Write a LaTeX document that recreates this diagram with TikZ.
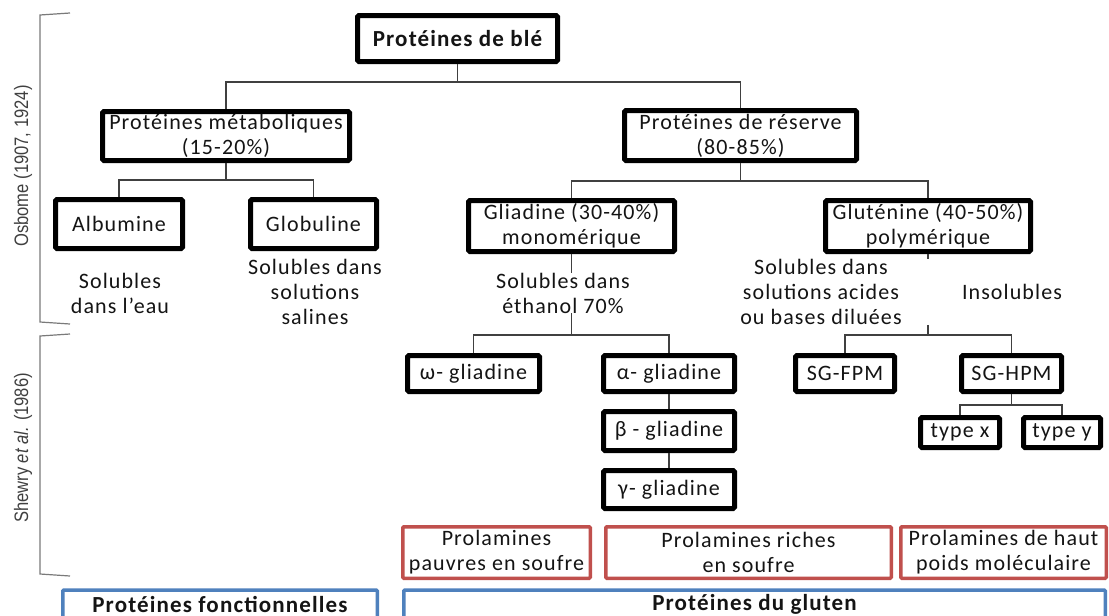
\documentclass[tikz,border=0pt]{standalone}
\usepackage{fontspec}
\setmainfont{Carlito}[LetterSpace=5]
\newfontfamily\labelfont{Liberation Sans}[FakeStretch=0.85]

\definecolor{ink}{HTML}{141414}
\definecolor{redc}{HTML}{C0504D}
\definecolor{bluec}{HTML}{4F81BD}
\definecolor{linegrey}{HTML}{404040}
\definecolor{bracketgrey}{HTML}{7A7A7A}
\definecolor{labelgrey}{HTML}{404040}

\newcommand{\boxfont}{\fontsize{22}{25}\selectfont}
\newcommand{\headfont}{\fontsize{23}{26}\selectfont\bfseries}

\tikzset{
  every node/.style={font=\boxfont, text=ink},
  wh/.style 2 args={minimum width=#1pt, minimum height=#2pt},
  blackbox/.style={draw=black, line width=5pt, fill=white, rounded corners=1.5pt,
    inner sep=0pt, align=center},
  redbox/.style={draw=redc, line width=3.5pt, fill=white, rounded corners=1pt,
    inner sep=0pt, align=center},
  bluebox/.style={draw=bluec, line width=3.5pt, fill=white, rounded corners=1pt,
    inner sep=0pt, align=center, font=\headfont},
  conn/.style={draw=linegrey, line width=1.3pt},
  note/.style={align=center, inner sep=0pt},
  bracket/.style={draw=bracketgrey, line width=1.2pt},
  sidelabel/.style={rotate=90, inner sep=0pt, text=labelgrey,
    font=\labelfont\fontsize{19.5}{22}\selectfont},
}

\begin{document}
\begin{tikzpicture}[x=1pt, y=-1pt]
\clip (0,0) rectangle (1109,616);
\fill[white] (0,0) rectangle (1109,616);

% side brackets with their references
\draw[bracket] (70,13) -- (40,15) -- (40,322) -- (70,324);
\node[sidelabel] (osb) at (23,166) {Osbome (1907, 1924)};
\draw[bracket] (70,334) -- (40,336) -- (40,574) -- (70,576);
\node[sidelabel] (shw) at (23,448) {Shewry \textit{et al.} (1986)};

% Osborne classification
\node[blackbox, font=\headfont, wh={200}{46}] (ble) at (457.5,38.5) {Protéines de blé};
\node[blackbox, wh={247}{49}] (meta) at (226,136) {Protéines métaboliques\\(15-20\%)};
\node[blackbox, wh={232}{50}] (reserve) at (740.5,135.5) {Protéines de réserve\\(80-85\%)};
\node[blackbox, wh={127}{49}] (alb) at (119,224) {Albumine};
\node[blackbox, wh={126}{49}] (glob) at (313.5,224) {Globuline};
\node[blackbox, wh={206}{51}] (glia) at (571.5,226) {Gliadine (30-40\%)\\monomérique};
\node[blackbox, wh={205}{51}] (glut) at (928,226) {Gluténine (40-50\%)\\polymérique};

% solubility notes
\node[note] (solalb) at (120,293) {Solubles\\dans l’eau};
\node[note] (solglob) at (315,292) {Solubles dans\\solutions\\salines};
\node[note] (solglia) at (563,293) {Solubles dans\\éthanol 70\%};
\node[note] (solglut) at (821,292) {Solubles dans\\solutions acides\\ou bases diluées};
\node[note] (insol) at (1012,292) {Insolubles};

% Shewry classification
\node[blackbox, wh={132}{36}] (omega) at (473.5,373.5) {ω- gliadine};
\node[blackbox, wh={131}{36}] (alpha) at (669,373.5) {α- gliadine};
\node[blackbox, wh={131}{39}] (beta) at (669,431) {β - gliadine};
\node[blackbox, wh={131}{38}] (gamma) at (669,489.5) {γ- gliadine};
\node[blackbox, wh={99}{36}] (fpm) at (845,373.5) {SG-FPM};
\node[blackbox, wh={100}{36}] (hpm) at (1011.5,373.5) {SG-HPM};
\node[blackbox, wh={79}{30}] (typex) at (960,432.5) {type x};
\node[blackbox, wh={77}{30}] (typey) at (1062,432.5) {type y};

% prolamin groups
\node[redbox, wh={187.5}{51.5}] (pauv) at (496.5,552.5) {Prolamines\\pauvres en soufre};
\node[redbox, wh={285.5}{51.5}] (rich) at (748.5,552.5) {Prolamines riches\\en soufre};
\node[redbox, wh={205.5}{51.5}] (haut) at (1003.5,552.5) {Prolamines de haut\\poids moléculaire};

% functional groups
\node[bluebox, wh={314.5}{28}] (fonc) at (220,604) {Protéines fonctionnelles};
\node[bluebox, wh={701.5}{28}] (glu) at (754.5,604) {Protéines du gluten};

% connectors
\coordinate (b1) at (0,82);
\coordinate (b2) at (0,180);
\coordinate (b3) at (0,181);
\coordinate (b4) at (0,335);
\coordinate (b5) at (0,405);

\draw[conn] (ble.south) -- (ble.south |- b1);
\draw[conn] (meta.north) |- (b1 -| reserve.north) -- (reserve.north);
\draw[conn] (meta.south) -- (meta.south |- b2);
\draw[conn] (alb.north) |- (b2 -| glob.north) -- (glob.north);
\draw[conn] (reserve.south) -- (reserve.south |- b3);
\draw[conn] (glia.north) |- (b3 -| glut.north) -- (glut.north);

\draw[conn] (glia.south) -- (glia.south |- solglia.north);
\draw[conn] (glia.south |- solglia.south) -- (glia.south |- b4);
\draw[conn] (omega.north) |- (b4 -| alpha.north) -- (alpha.north);
\draw[conn] (alpha.south) -- (beta.north);
\draw[conn] (beta.south) -- (gamma.north);

\draw[conn] (glut.south) -- (glut.south |- solglut.north);
\draw[conn] (glut.south |- solglut.south) -- (glut.south |- b4);
\draw[conn] (fpm.north) |- (b4 -| hpm.north) -- (hpm.north);
\draw[conn] (hpm.south) -- (hpm.south |- b5);
\draw[conn] (typex.north) |- (b5 -| typey.north) -- (typey.north);
\end{tikzpicture}
\end{document}
